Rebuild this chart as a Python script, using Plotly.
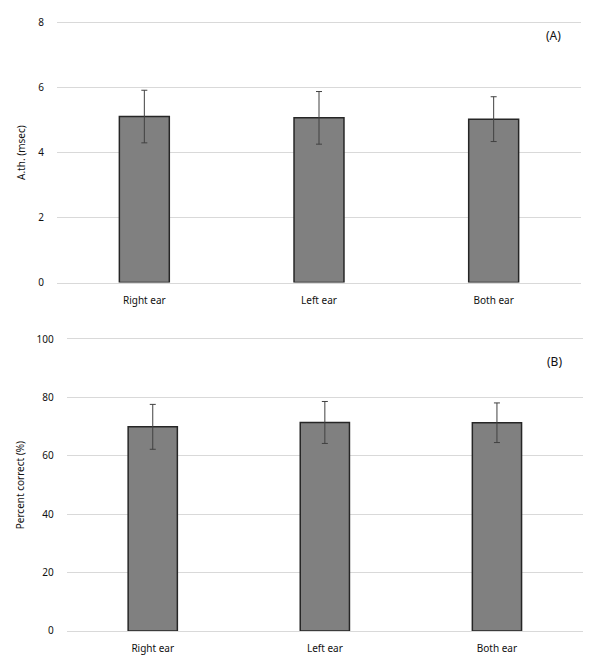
import plotly.graph_objects as go

categories = ["Right ear", "Left ear", "Both ear"]
ath_mean = [5.11, 5.07, 5.03]
ath_err = [0.81, 0.81, 0.69]
pc_mean = [70.0, 71.5, 71.4]
pc_err = [7.7, 7.2, 6.8]
ath_ticks = [0, 2, 4, 6, 8]
pc_ticks = [0, 20, 40, 60, 80, 100]

W, H = 596, 666
FONT = "Noto Sans"
bar_style = dict(marker=dict(color="#808080", line=dict(color="#262626", width=1.5)))
err_style = dict(type="data", color="#404040", thickness=1, width=3)

fig = go.Figure()
fig.add_trace(go.Bar(x=categories, y=ath_mean, xaxis="x", yaxis="y",
                     error_y=dict(array=ath_err, **err_style), showlegend=False, **bar_style))
fig.add_trace(go.Bar(x=categories, y=pc_mean, xaxis="x2", yaxis="y2",
                     error_y=dict(array=pc_err, **err_style), showlegend=False, **bar_style))

axis_font = dict(family=FONT, size=10, color="#111111")
grid = dict(showgrid=True, gridcolor="#d9d9d9", gridwidth=1, zeroline=False,
            showline=False, ticks="", tickfont=axis_font)
xstyle = dict(showgrid=False, showline=True, mirror=True, linecolor="#d9d9d9", linewidth=1,
              ticks="", tickfont=axis_font, ticklabelstandoff=8)

fig.update_layout(
    width=W, height=H,
    margin=dict(l=0, r=0, t=0, b=0),
    plot_bgcolor="white", paper_bgcolor="white",
    bargap=0.714,
    font=dict(family=FONT),
    xaxis=dict(domain=[57 / W, 581 / W], anchor="y", **xstyle),
    yaxis=dict(domain=[1 - 281 / H, 1 - 16 / H], anchor="x", range=[0, 8],
               tickvals=ath_ticks, ticklabelstandoff=12,
               title=dict(text="A.th. (msec)", font=dict(family=FONT, size=10, color="#111111"), standoff=10),
               **grid),
    xaxis2=dict(domain=[66.7 / W, 583 / W], anchor="y2", **xstyle),
    yaxis2=dict(domain=[1 - 636.3 / H, 1 - 339 / H], anchor="x2", range=[0, 100],
                tickvals=pc_ticks, ticklabelstandoff=12,
                title=dict(text="Percent correct (%)", font=dict(family=FONT, size=10, color="#111111"), standoff=10),
                **grid),
    annotations=[
        dict(text="(A)", x=553 / W, y=1 - 29 / H, xref="paper", yref="paper",
             xanchor="center", yanchor="middle",
             showarrow=False, font=dict(family=FONT, size=12, color="#111111")),
        dict(text="(B)", x=554 / W, y=1 - 362 / H, xref="paper", yref="paper",
             xanchor="center", yanchor="middle",
             showarrow=False, font=dict(family=FONT, size=12, color="#111111")),
    ],
)

fig.write_html("out.html")
